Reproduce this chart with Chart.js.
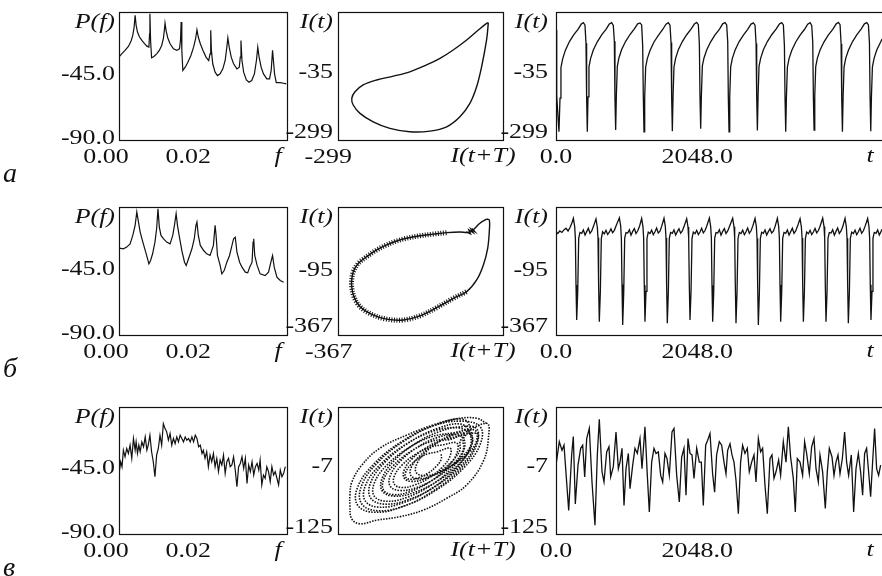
<!DOCTYPE html>
<html>
<head>
<meta charset="utf-8">
<script src="https://cdn.jsdelivr.net/npm/chart.js@4.4.0/dist/chart.umd.min.js"></script>
<style>
  html, body { margin: 0; background: #fff; overflow: hidden; }
  #fig { position: relative; width: 882px; height: 576px; overflow: hidden; background: #fff; }
  #fig canvas { position: absolute; left: 0; top: 0; }
</style>
</head>
<body>
<div id="fig"></div>
<script>
// Power spectra P(f), dB
const specA_f = [0.0001,0.0008,0.0018,0.0028,0.0036,0.0041,0.0045,0.0048,0.0051,0.0055,0.0061,0.0068,0.0076,0.0083,0.0089,0.0091,0.0092,0.0094,0.0097,0.0104,0.0112,0.0120,0.0127,0.0132,0.0135,0.0137,0.0140,0.0145,0.0152,0.0162,0.0172,0.0180,0.0183,0.0185,0.0187,0.0190,0.0197,0.0205,0.0214,0.0222,0.0228,0.0232,0.0236,0.0242,0.0250,0.0259,0.0267,0.0271,0.0273,0.0275,0.0279,0.0286,0.0293,0.0301,0.0309,0.0316,0.0321,0.0324,0.0328,0.0334,0.0341,0.0351,0.0358,0.0361,0.0363,0.0366,0.0371,0.0379,0.0387,0.0395,0.0403,0.0409,0.0413,0.0417,0.0423,0.0430,0.0440,0.0448,0.0453,0.0457,0.0460,0.0463,0.0468,0.0480,0.0490,0.0498];
const specA_P = [-31.3,-29.4,-27.0,-24.2,-20.4,-16.5,-10.6,-2.4,-9.4,-14.1,-17.6,-20.0,-22.3,-24.0,-24.7,-15.3,-1.2,-20.0,-32.2,-31.3,-29.4,-27.0,-23.5,-18.8,-12.9,-7.8,-12.9,-18.1,-22.3,-25.9,-27.0,-25.9,-20.0,-7.1,-27.0,-41.1,-38.8,-35.3,-30.6,-24.7,-18.8,-12.5,-17.6,-22.3,-27.0,-31.7,-34.1,-29.4,-12.9,-27.0,-36.4,-42.3,-44.7,-43.5,-40.0,-34.1,-24.7,-18.1,-24.7,-31.7,-36.4,-40.0,-38.8,-31.7,-20.0,-34.1,-42.3,-47.7,-49.4,-48.2,-43.5,-34.1,-24.7,-31.7,-38.8,-43.5,-47.0,-47.0,-41.1,-27.0,-35.3,-43.5,-49.6,-49.6,-50.1,-50.5];

const specB_f = [0.0001,0.0013,0.0023,0.0033,0.0041,0.0048,0.0053,0.0058,0.0063,0.0071,0.0081,0.0089,0.0094,0.0100,0.0107,0.0112,0.0116,0.0120,0.0125,0.0132,0.0142,0.0152,0.0160,0.0165,0.0170,0.0174,0.0179,0.0187,0.0195,0.0200,0.0207,0.0217,0.0224,0.0229,0.0232,0.0236,0.0242,0.0252,0.0261,0.0271,0.0281,0.0286,0.0289,0.0293,0.0301,0.0306,0.0313,0.0321,0.0329,0.0341,0.0346,0.0351,0.0359,0.0366,0.0376,0.0383,0.0389,0.0396,0.0399,0.0401,0.0404,0.0411,0.0420,0.0435,0.0445,0.0452,0.0457,0.0462,0.0470,0.0480,0.0490];
const specB_P = [-28.9,-29.4,-28.2,-25.9,-20.0,-12.9,-3.5,-10.6,-17.6,-24.7,-32.9,-40.0,-37.6,-32.9,-24.7,-15.3,-1.2,-14.1,-20.0,-22.3,-24.7,-25.9,-20.0,-12.9,-4.7,-12.9,-20.0,-30.6,-38.8,-41.1,-36.4,-29.4,-22.3,-12.9,-10.6,-20.0,-27.0,-30.6,-32.9,-34.1,-27.0,-12.9,-20.0,-34.1,-41.1,-47.0,-44.7,-38.8,-34.1,-22.3,-21.2,-31.7,-38.8,-42.3,-45.8,-46.3,-42.3,-38.8,-24.7,-22.3,-34.1,-41.1,-47.0,-48.2,-45.8,-38.8,-34.1,-42.3,-49.4,-51.7,-52.9];

const specC_f = [0.0001,0.0005,0.0009,0.0013,0.0018,0.0023,0.0028,0.0033,0.0038,0.0043,0.0048,0.0051,0.0055,0.0059,0.0063,0.0068,0.0073,0.0078,0.0083,0.0087,0.0092,0.0097,0.0102,0.0107,0.0112,0.0117,0.0122,0.0127,0.0132,0.0137,0.0142,0.0147,0.0152,0.0157,0.0162,0.0167,0.0172,0.0177,0.0182,0.0187,0.0192,0.0197,0.0202,0.0207,0.0212,0.0217,0.0222,0.0227,0.0232,0.0237,0.0242,0.0247,0.0251,0.0256,0.0261,0.0266,0.0271,0.0276,0.0281,0.0286,0.0291,0.0296,0.0301,0.0306,0.0311,0.0316,0.0321,0.0326,0.0331,0.0336,0.0341,0.0346,0.0351,0.0356,0.0361,0.0366,0.0371,0.0376,0.0381,0.0386,0.0391,0.0396,0.0401,0.0406,0.0411,0.0416,0.0420,0.0425,0.0430,0.0435,0.0440,0.0445,0.0450,0.0455,0.0460,0.0465,0.0470,0.0475,0.0480,0.0485,0.0490,0.0495];
const specC_P = [-45.8,-38.8,-42.3,-30.6,-35.3,-29.4,-32.9,-27.0,-36.4,-22.3,-30.6,-24.7,-32.9,-27.0,-31.7,-24.7,-28.2,-21.2,-30.6,-27.0,-20.0,-31.7,-38.8,-49.4,-34.1,-29.4,-20.0,-27.0,-11.8,-15.3,-17.6,-23.5,-18.8,-27.0,-22.3,-25.9,-21.2,-24.7,-20.0,-22.3,-24.7,-21.2,-23.5,-22.3,-24.7,-21.2,-24.7,-20.0,-22.3,-28.2,-27.0,-32.9,-30.6,-36.4,-31.7,-42.3,-34.1,-38.8,-32.9,-42.3,-36.4,-45.8,-37.6,-41.1,-34.1,-47.0,-38.8,-36.4,-42.3,-41.1,-35.3,-44.7,-56.4,-42.3,-40.0,-35.3,-43.5,-36.4,-54.1,-41.1,-45.8,-38.8,-48.2,-42.3,-40.0,-44.7,-37.6,-55.2,-48.2,-50.5,-42.3,-45.8,-52.9,-42.3,-48.2,-45.8,-50.5,-55.2,-44.7,-49.4,-47.0,-42.3];

// Delay portraits I(t+T), I(t)
const phA_x = [179,173,156,139,116,82,37,-20,-89,-157,-214,-259,-282,-287,-276,-248,-202,-145,-89,-32,14,59,105,145,173,179];
const phA_y = [182,106,-12,-100,-173,-232,-276,-295,-298,-283,-254,-217,-180,-151,-122,-92,-70,-53,-34,-4,25,62,106,150,179,182];

const phB_x = [146,156,156,150,134,109,72,22,-40,-102,-164,-226,-282,-325,-348,-356,-356,-350,-331,-300,-263,-226,-189,-152,-102,-52,-3,47,78,96,121,146];
const phB_y = [149,145,89,9,-71,-143,-199,-231,-276,-315,-335,-331,-308,-271,-223,-175,-143,-103,-63,-31,1,25,44,57,69,77,84,87,85,97,129,149];
// slow part of the orbit, smeared by noise
const phBn_x = [-3,-52,-102,-152,-189,-226,-263,-300,-331,-350,-356,-356,-348,-325,-282,-226,-164,-102,-40,22,72];
const phBn_y = [84,77,69,57,44,25,1,-31,-63,-103,-143,-175,-223,-271,-308,-331,-335,-315,-276,-231,-199];
const phBk_x = [70,86,80,96,88,101,92];
const phBk_y = [88,78,97,84,101,90,104];

const phC_x = [16.8,16.7,9.5,-2.9,-17.3,-29.7,-36.8,-36.7,-29.5,-17.1,-2.7,9.7,
  30.1,30.0,18.7,-0.9,-23.5,-43.0,-54.1,-54.0,-42.7,-23.1,-0.5,19.0,
  40.2,40.0,25.3,-0.4,-29.9,-55.4,-70.2,-70.0,-55.3,-29.6,-0.1,25.4,
  71,70.3,57.6,36.1,11.6,-9.3,-21,-20.3,-7.6,13.9,38.4,59.3,
  50.2,50.0,35.3,9.6,-19.9,-45.4,-60.2,-60.0,-45.3,-19.6,9.9,35.4,
  50.4,50.2,32.1,0.7,-35.3,-66.4,-84.4,-84.2,-66.1,-34.7,1.3,32.4,
  67.9,67.7,46.4,9.8,-32.4,-68.9,-89.9,-89.7,-68.4,-31.8,10.4,46.9,
  59.9,59.7,38.4,1.8,-40.4,-76.9,-97.9,-97.7,-76.4,-39.8,2.4,38.9,
  69.6,69.6,45.5,3.9,-44.1,-85.6,-109.6,-109.6,-85.5,-43.9,4.1,45.6,
  75.6,75.6,51.5,9.9,-38.1,-79.6,-103.6,-103.6,-79.5,-37.9,10.1,51.6,
  62.4,62.2,44.1,12.7,-23.3,-54.4,-72.4,-72.2,-54.1,-22.7,13.3,44.4,
  63,62.3,49.6,28.1,3.6,-17.3,-29,-28.3,-15.6,5.9,30.4,51.3,
  45.1,45.0,33.7,14.1,-8.5,-28.0,-39.1,-39.0,-27.7,-8.1,14.5,34.0,
  85,88,80,55,25,-10,-45.5,-81,-106,-118.5,-121,-121,-118,-103,-76,-35,5,40,70,85];
const phC_y = [17.5,7.3,-6.2,-19.4,-28.6,-31.7,-27.5,-17.3,-3.8,9.4,18.6,21.7,
  29.3,13.4,-7.7,-28.4,-43.1,-47.8,-41.3,-25.4,-4.3,16.4,31.1,35.8,
  39.2,18.2,-9.5,-36.6,-55.7,-61.8,-53.2,-32.2,-4.5,22.6,41.7,47.8,
  58.5,42.2,19.9,-2.4,-18.7,-24.6,-18.5,-2.2,20.1,42.4,58.7,64.6,
  47.2,26.2,-1.5,-28.6,-47.7,-53.8,-45.2,-24.2,3.5,30.6,49.7,55.8,
  48.5,23.0,-10.9,-43.9,-67.3,-74.8,-64.5,-39.0,-5.1,27.9,51.3,58.8,
  64.1,34.2,-5.4,-44.2,-71.6,-80.4,-68.1,-38.2,1.4,40.2,67.6,76.4,
  58.1,28.2,-11.4,-50.2,-77.6,-86.4,-74.1,-44.2,-4.6,34.2,61.6,70.4,
  68.1,33.9,-11.4,-55.4,-86.6,-96.3,-82.1,-47.9,-2.6,41.4,72.6,82.3,
  71.1,36.9,-8.4,-52.4,-83.6,-93.3,-79.1,-44.9,0.4,44.4,75.6,85.3,
  58.5,33.0,-0.9,-33.9,-57.3,-64.8,-54.5,-29.0,4.9,37.9,61.3,68.8,
  52.5,36.2,13.9,-8.4,-24.7,-30.6,-24.5,-8.2,14.1,36.4,52.7,58.6,
  41.3,25.4,4.3,-16.4,-31.1,-35.8,-29.3,-13.4,7.7,28.4,43.1,47.8,
  78,49,3,-43,-69,-92,-105,-112,-119,-109,-82.5,-63,-37,-4,29,55,75,87,88,78];

// Time series I(t)
const tA = [0,10,43,58,72,96,135,193,256,319,367,
  396,420,435,444,454,464,478,502,541,599,662,725,773,
  807,831,846,855,865,875,889,913,952,1010,1073,1136,1184,
  1218,1242,1257,1266,1276,1286,1300,1324,1363,1421,1484,1547,1595,
  1629,1653,1668,1677,1687,1697,1711,1735,1774,1832,1895,1958,2006,
  2040,2064,2079,2088,2098,2108,2122,2146,2185,2243,2306,2369,2417,
  2451,2475,2490,2499,2509,2519,2533,2557,2596,2654,2717,2780,2828,
  2862,2886,2901,2910,2920,2930,2944,2968,3007,3065,3128,3191,3239,
  3273,3297,3312,3321,3331,3341,3355,3379,3418,3476,3539,3602,3650,
  3684,3708,3723,3732,3742,3752,3766,3790,3829,3887,3950,4013,4061,
  4095,4119,4134,4143,4153,4163,4177,4201,4240,4298,4361,4424,4472,
  4506,4530,4545,4554,4564,4574,4588,4612,4651,4709,4727];
const iA = [150,-140,-298,-150,-15,22,60,98,128,153,176,
  182,172,91,-144,-298,-144,-12,25,62,98,128,153,176,
  182,170,100,-150,-290,-140,-10,28,64,100,130,155,177,
  181,172,80,-140,-298,-148,-14,24,60,97,126,152,175,
  182,171,95,-146,-295,-142,-12,26,63,99,129,154,176,
  183,173,85,-144,-285,-138,-8,27,62,98,128,153,177,
  182,172,98,-150,-298,-145,-12,25,61,98,127,153,176,
  181,171,90,-142,-292,-140,-10,26,63,99,129,154,176,
  182,172,80,-146,-298,-146,-13,24,60,97,127,152,175,
  182,170,95,-144,-290,-140,-11,26,62,98,128,153,176,
  183,173,88,-148,-298,-144,-12,25,61,98,128,154,177,
  182,172,92,-145,-295,-142,-12,25,62,98,110];

const tB = [0,25,55,85,115,145,175,205,230,
  252,271,281,290,300,315,329,348,373,397,421,445,469,493,518,542,
  580,599,609,618,628,643,657,676,701,725,749,773,797,821,846,870,
  919,938,948,957,967,982,996,1015,1040,1064,1088,1112,1136,1160,1185,1209,
  1242,1261,1271,1280,1290,1305,1319,1338,1363,1387,1411,1435,1459,1483,1508,1532,
  1566,1585,1595,1604,1614,1629,1643,1662,1687,1711,1735,1759,1783,1807,1832,1856,
  1895,1914,1924,1933,1943,1958,1972,1991,2016,2040,2064,2088,2112,2136,2161,2185,
  2224,2243,2253,2262,2272,2287,2301,2320,2345,2369,2393,2417,2441,2465,2490,2514,
  2562,2581,2591,2600,2610,2625,2639,2658,2683,2707,2731,2755,2779,2803,2828,2852,
  2886,2905,2915,2924,2934,2949,2963,2982,3007,3031,3055,3079,3103,3127,3152,3176,
  3210,3229,3239,3248,3258,3273,3287,3306,3331,3355,3379,3403,3427,3451,3476,3500,
  3539,3558,3568,3577,3587,3602,3616,3635,3660,3684,3708,3732,3756,3780,3805,3829,
  3867,3886,3896,3905,3915,3930,3944,3963,3988,4012,4036,4060,4084,4108,4133,4157,
  4191,4210,4220,4229,4239,4254,4268,4287,4312,4336,4360,4384,4408,4432,4457,4481,
  4519,4538,4548,4557,4567,4582,4596,4615,4640,4664,4688,4712,4727];
const iB = [89,80,92,85,97,105,92,110,130,
  153,113,57,-167,-335,-199,57,85,81,97,73,89,105,81,92,113,
  150,110,60,-170,-343,-200,55,88,78,95,75,86,102,84,95,116,
  155,115,55,-165,-359,-205,58,84,82,98,72,90,104,80,93,112,
  152,112,57,-168,-343,-198,56,86,80,96,74,88,106,82,91,114,
  153,114,58,-166,-351,-200,57,85,81,97,73,89,103,81,92,113,
  151,111,56,-167,-335,-196,55,87,79,95,75,87,105,83,94,115,
  154,113,57,-169,-343,-201,58,84,82,98,72,90,104,80,92,112,
  153,112,59,-166,-351,-199,56,85,80,96,74,88,106,81,93,114,
  152,114,56,-168,-359,-204,57,86,81,97,73,89,103,82,91,113,
  153,113,57,-167,-343,-199,57,85,81,97,73,89,105,81,92,113,
  151,111,58,-165,-343,-197,55,87,79,95,75,87,104,83,94,115,
  154,114,56,-168,-343,-200,58,84,82,98,72,90,106,80,92,112,
  153,112,57,-167,-351,-201,56,86,80,96,74,88,105,81,93,114,
  152,113,57,-166,-335,-198,57,85,81,97,73,89,100];

const tC = [0,48,87,116,184,227,251,280,319,358,387,416,445,483,522,565,599,628,667,696,735,768,793,831,870,904,928,957,986,1015,1049,1073,1112,1145,1179,1218,1247,1290,1324,1353,1387,1421,1450,1484,1518,1547,1580,1609,1643,1682,1711,1750,1788,1822,1856,1885,1914,1943,1972,2001,2040,2078,2107,2136,2170,2199,2233,2271,2300,2329,2368,2402,2436,2465,2489,2523,2552,2581,2610,2644,2677,2706,2740,2774,2803,2837,2871,2900,2934,2967,2996,3030,3064,3103,3132,3161,3190,3228,3257,3296,3335,3369,3402,3441,3470,3499,3538,3576,3605,3634,3673,3707,3741,3770,3804,3828,3866,3905,3934,3963,4002,4031,4060,4089,4118,4152,4185,4214,4243,4282,4316,4350,4384,4417,4446,4475,4504,4533,4562,4591,4620,4649,4678,4707];
const iC = [-4,42,25,35,-93,16,52,-80,-4,29,35,-27,48,68,-37,-122,16,86,-17,-37,22,32,-27,-7,61,-11,2,29,-83,-11,19,-50,-4,29,19,48,-11,71,-24,-96,2,29,19,22,-24,-37,19,9,-24,61,68,-24,-76,12,29,-63,48,19,16,-30,29,2,2,-83,35,45,58,-21,-57,16,42,35,2,-21,25,38,16,2,-34,-99,2,35,19,29,-17,2,16,-37,48,22,29,-43,-99,9,16,-30,-17,6,-24,42,2,71,12,-30,-96,9,2,-24,42,19,-21,32,48,-11,-37,16,-17,-89,-17,29,12,-24,2,16,-21,9,61,2,-24,16,-96,-11,19,-17,-63,19,29,-17,-66,2,68,-11,-24,-4];

// Axis ranges and tick labels
const SPEC_RANGE = [-90, 0];
const SPEC_Y_TICKS = [-45, -90];
const SPEC_X_TICKS = [0, 0.02];
const F_MAX = 0.05;
const T_MAX = 4756;
const T_TICKS = [0, 2048];
const I_RANGES = [[-334, 229], [-407, 207], [-139, 110]];
const I_TICKS = [[-35, -299], [-95, -367], [-7, -125]];
const ROW_LETTERS = ['а', 'б', 'в'];

const ROWS = [{ top: 12, bottom: 140 }, { top: 207, bottom: 335 }, { top: 407, bottom: 534 }];
const CW = 890, CH = 576;
const INK = '#111';
const NUM_FONT = '22px "Liberation Serif", "Times New Roman", serif';
const VAR_FONT = 'italic 22px "Liberation Serif", "Times New Roman", serif';
const LETTER_FONT = 'italic 28px "Liberation Serif", "Times New Roman", serif';
const STRETCH = 1.18;

function pts(xs, ys) {
  const n = Math.min(xs.length, ys.length);
  const out = [];
  for (let i = 0; i < n; i++) out.push({ x: xs[i], y: ys[i] });
  return out;
}

function trace(xs, ys, extra) {
  return Object.assign({
    data: pts(xs, ys),
    showLine: true,
    borderColor: INK,
    borderWidth: 1.2,
    pointRadius: 0,
    tension: 0,
  }, extra || {});
}

// wide serif text like the old plotter
function say(ctx, text, x, y, align) {
  ctx.save();
  ctx.translate(x, y);
  ctx.scale(STRETCH, 1);
  ctx.textAlign = align;
  ctx.fillText(text, 0, 0);
  ctx.restore();
}

// box, tick labels and axis names
const frame = {
  id: 'frame',
  afterDatasetsDraw(chart, args, o) {
    const { ctx, chartArea: a, scales } = chart;
    ctx.save();
    ctx.strokeStyle = INK;
    ctx.lineWidth = 1.2;
    ctx.strokeRect(Math.round(a.left) + 0.5, Math.round(a.top) + 0.5,
      Math.round(a.right - a.left), Math.round(a.bottom - a.top));
    ctx.fillStyle = INK;
    ctx.textBaseline = 'middle';
    ctx.font = NUM_FONT;
    o.yTicks.forEach(t => say(ctx, t.text, a.left - o.gap, scales.y.getPixelForValue(t.v) + o.dy, 'right'));
    o.xTicks.forEach(t => say(ctx, t.text, scales.x.getPixelForValue(t.v) + t.dx, a.bottom + 17, 'center'));
    ctx.font = VAR_FONT;
    say(ctx, o.yName, a.left - o.gap, a.top + 10, 'right');
    say(ctx, o.xName, a.right + o.xNameDx, a.bottom + 16, 'center');
    if (o.letter) {
      ctx.font = LETTER_FONT;
      ctx.textAlign = 'left';
      ctx.fillText(o.letter, 3, a.bottom + 35);
    }
    ctx.restore();
  }
};

function makePanel(box, xr, yr, sets, marks) {
  const canvas = document.createElement('canvas');
  canvas.width = CW;
  canvas.height = CH;
  document.getElementById('fig').appendChild(canvas);
  return new Chart(canvas, {
    type: 'scatter',
    data: { datasets: sets },
    options: {
      responsive: false,
      animation: false,
      events: [],
      layout: { padding: { left: box[0], top: box[1], right: CW - box[2], bottom: CH - box[3] } },
      scales: {
        x: { type: 'linear', min: xr[0], max: xr[1], display: false },
        y: { type: 'linear', min: yr[0], max: yr[1], display: false },
      },
      plugins: { legend: { display: false }, tooltip: { enabled: false }, frame: marks },
    },
    plugins: [frame],
  });
}

const spectra = [[specA_f, specA_P], [specB_f, specB_P], [specC_f, specC_P]];
const series = [[tA, iA], [tB, iB], [tC, iC]];
const portraits = [
  [trace(phA_x, phA_y, { tension: 0.35, borderWidth: 1.4 })],
  [
    trace(phB_x, phB_y, { tension: 0.35, borderWidth: 1.4 }),
    trace(phBn_x, phBn_y, { tension: 0.35, borderWidth: 5, borderDash: [1, 1.6] }),
    trace(phBk_x, phBk_y, { borderWidth: 1.4 }),
  ],
  [trace(phC_x, phC_y, { tension: 0.4, borderWidth: 1.6, borderDash: [1.5, 1.3] })],
];

ROWS.forEach((r, k) => {
  const iTicks = I_TICKS[k].map(v => ({ v, text: String(v) }));

  makePanel([119, r.top, 287, r.bottom], [0, F_MAX], SPEC_RANGE,
    [trace(spectra[k][0], spectra[k][1])], {
      gap: 4, dy: -2,
      yTicks: SPEC_Y_TICKS.map(v => ({ v, text: v.toFixed(1) })),
      xTicks: SPEC_X_TICKS.map((v, i) => ({ v, text: v.toFixed(2), dx: i === 0 ? -13 : 2 })),
      yName: 'P(f)', xName: 'f', xNameDx: -9, letter: ROW_LETTERS[k],
    });

  const lo = I_TICKS[k][1];
  makePanel([338, r.top, 503, r.bottom], I_RANGES[k], I_RANGES[k], portraits[k], {
    gap: 5, dy: 0,
    yTicks: iTicks,
    xTicks: k < 2 ? [{ v: lo, text: String(lo), dx: -20 }] : [],
    yName: 'I(t)', xName: 'I(t+T)', xNameDx: -20,
  });

  makePanel([556, r.top, 884, r.bottom], [0, T_MAX], I_RANGES[k],
    [trace(series[k][0], series[k][1], { borderWidth: 1.3 })], {
      gap: 8, dy: 0,
      yTicks: iTicks,
      xTicks: T_TICKS.map(v => ({ v, text: v.toFixed(1), dx: 0 })),
      yName: 'I(t)', xName: 't', xNameDx: -14,
    });
});
</script>
</body>
</html>
